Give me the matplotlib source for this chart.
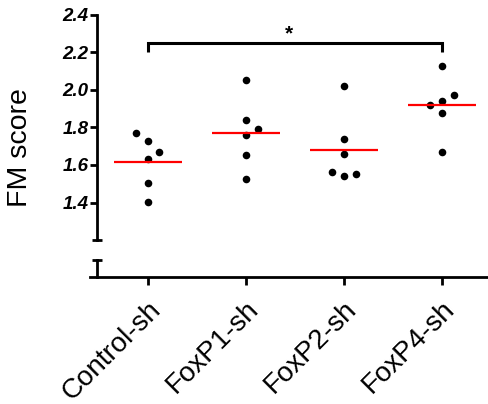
import numpy as np
import matplotlib
matplotlib.use("Agg")
import matplotlib.pyplot as plt
from matplotlib.ticker import FixedLocator

plt.rcParams['font.family'] = ['Liberation Sans', 'DejaVu Sans']

groups = ["Control-sh", "FoxP1-sh", "FoxP2-sh", "FoxP4-sh"]
control = [1.77, 1.73, 1.67, 1.63, 1.505, 1.405]
foxp1 = [2.055, 1.84, 1.79, 1.76, 1.655, 1.525]
foxp2 = [2.02, 1.74, 1.66, 1.56, 1.54, 1.55]
foxp4 = [2.13, 1.975, 1.94, 1.92, 1.875, 1.67]
values = [control, foxp1, foxp2, foxp4]
# horizontal spread of the dots (in category units)
jitter = [[-0.12, 0, 0.12, 0, 0, 0],
          [0, 0, 0.12, 0, 0, 0],
          [0, 0, 0, -0.12, 0, 0.12],
          [0, 0.12, 0, -0.12, 0, 0]]
yticks = [1.4, 1.6, 1.8, 2.0, 2.2, 2.4]

W, H = 489, 404
fig = plt.figure(figsize=(W / 100, H / 100), dpi=100)

# upper (data) part of the broken axis
ax = fig.add_axes([97 / W, (H - 240) / H, (W - 97) / W, 225 / H])
# lower stub with the category axis
axb = fig.add_axes([90 / W, (H - 277) / H, (W - 90) / W, 17 / H])

lw = 2.0
for a in (ax, axb):
    for s in ("top", "right"):
        a.spines[s].set_visible(False)
    a.spines["left"].set_linewidth(lw)
    a.patch.set_visible(False)

ax.spines["bottom"].set_visible(False)
ax.set_xlim(-0.517, 3.48)
ax.set_ylim(1.2, 2.4)
ax.set_xticks([])
ax.yaxis.set_major_locator(FixedLocator(yticks))
ax.set_yticklabels(["%.1f" % t for t in yticks], fontsize=13.5,
                   fontweight="bold", fontstyle="italic")
ax.yaxis.set_minor_locator(FixedLocator([1.2]))
ax.tick_params(axis="y", which="major", length=5, width=lw, pad=1)
ax.tick_params(axis="y", which="minor", length=7, width=lw, direction="inout")
ax.set_ylabel("FM score", fontsize=20.5)
ax.yaxis.set_label_coords(-0.163, 0.41)

for i, (vals, jit) in enumerate(zip(values, jitter)):
    xs = np.array(jit) + i
    ax.scatter(xs, vals, s=30, color="black", zorder=3, linewidths=0)
    m = np.mean(vals)
    ax.plot([i - 0.345, i + 0.345], [m, m], color="red", lw=1.6, zorder=4,
            solid_capstyle="butt")

# significance bracket
ax.plot([0, 0, 3, 3], [2.205, 2.249, 2.249, 2.205], color="black", lw=2.2,
        solid_capstyle="butt", solid_joinstyle="miter", clip_on=False)
ax.text(1.44, 2.30, "*", fontsize=15, fontweight="bold", ha="center",
        va="center")

axb.set_xlim(-0.588, 3.48)
axb.set_ylim(0, 1)
axb.spines["left"].set_position(("axes", 7 / (W - 90)))
axb.spines["bottom"].set_linewidth(lw)
axb.set_yticks([])
axb.yaxis.set_minor_locator(FixedLocator([1.0]))
axb.tick_params(axis="y", which="minor", length=7, width=lw, direction="inout")
axb.set_xticks(range(len(groups)))
axb.set_xticklabels(groups, rotation=45, ha="right", rotation_mode="anchor",
                    fontsize=20)
axb.tick_params(axis="x", length=6, width=lw, pad=8)

fig.savefig("out.png", dpi=100)
